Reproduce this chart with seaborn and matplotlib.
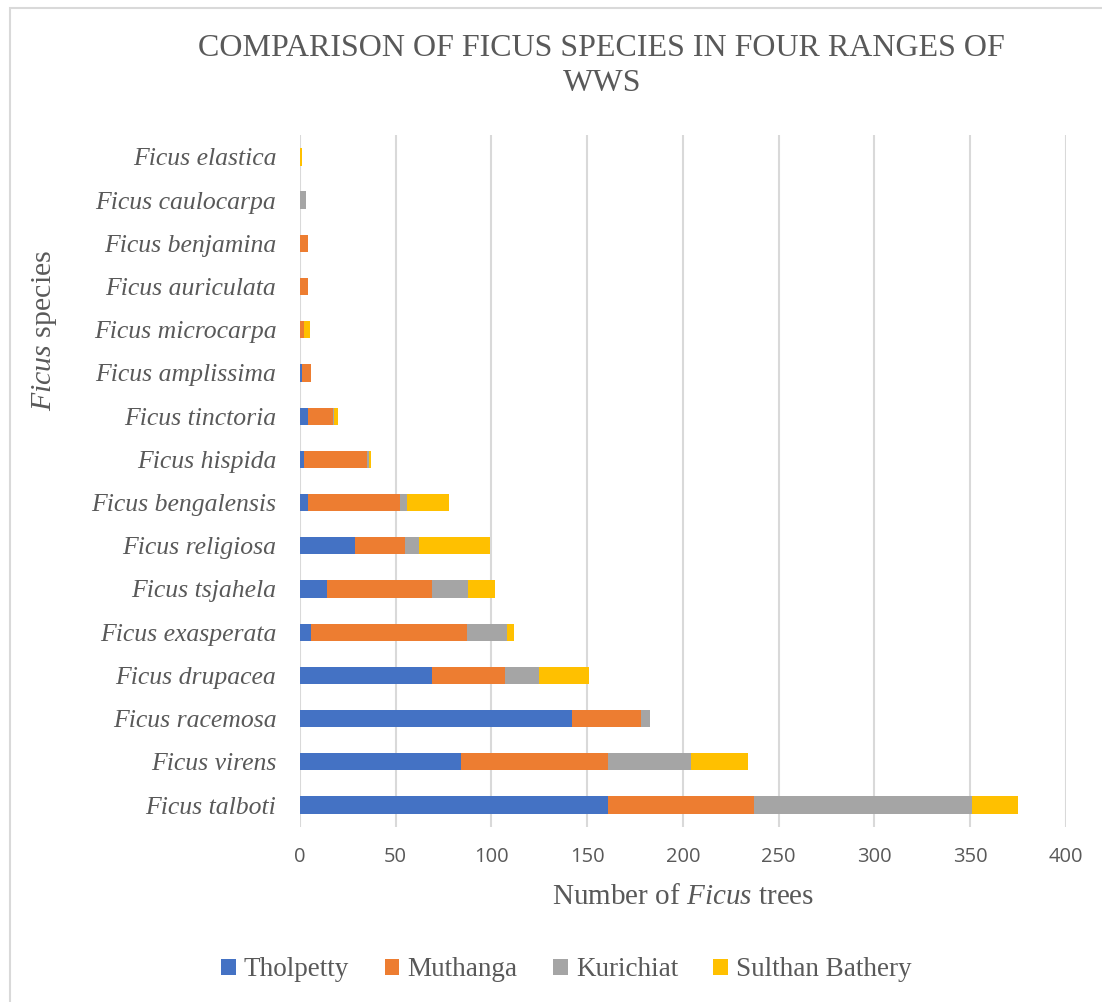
import matplotlib
matplotlib.use("Agg")
import matplotlib.pyplot as plt
from matplotlib.patches import Patch, Rectangle
import numpy as np
import pandas as pd
import seaborn as sns

# Species listed top to bottom as they appear on the chart
species = [
    "Ficus elastica", "Ficus caulocarpa", "Ficus benjamina", "Ficus auriculata",
    "Ficus microcarpa", "Ficus amplissima", "Ficus tinctoria", "Ficus hispida",
    "Ficus bengalensis", "Ficus religiosa", "Ficus tsjahela", "Ficus exasperata",
    "Ficus drupacea", "Ficus racemosa", "Ficus virens", "Ficus talboti",
]

# Tree counts per forest range
tholpetty = [0, 0, 0, 0, 0, 1, 4, 2, 4, 29, 14, 6, 69, 142, 84, 161]
muthanga = [0, 0, 4, 4, 2, 5, 13, 33, 48, 26, 55, 81, 38, 36, 77, 76]
kurichiat = [0, 3, 0, 0, 0, 0, 1, 1, 4, 7, 19, 21, 18, 5, 43, 114]
sulthan_bathery = [1, 0, 0, 0, 3, 0, 2, 1, 22, 37, 14, 4, 26, 0, 30, 24]

ranges = ["Tholpetty", "Muthanga", "Kurichiat", "Sulthan Bathery"]
colors = ["#4472C4", "#ED7D31", "#A5A5A5", "#FFC000"]
x_ticks = [0, 50, 100, 150, 200, 250, 300, 350, 400]

df = pd.DataFrame({
    "species": species,
    "Tholpetty": tholpetty,
    "Muthanga": muthanga,
    "Kurichiat": kurichiat,
    "Sulthan Bathery": sulthan_bathery,
})
cum = df[ranges].cumsum(axis=1)

sns.set_theme(style="white")
plt.rcParams["mathtext.fontset"] = "custom"
plt.rcParams["mathtext.rm"] = "Liberation Serif"
plt.rcParams["mathtext.it"] = "Liberation Serif:italic"

text_color = "#595959"
serif = "Liberation Serif"

fig = plt.figure(figsize=(11.02, 10.02), dpi=100)
ax = fig.add_axes([0.2722, 0.175, 0.6951, 0.690])

# Stack by overdrawing cumulative totals, largest first
for name, color in reversed(list(zip(ranges, colors))):
    sns.barplot(x=cum[name], y=df["species"], order=species, orient="h",
                color=color, width=0.4, linewidth=0, saturation=1, ax=ax)

ax.set_xlim(0, 400)
ax.set_xticks(x_ticks)
ax.set_xticklabels([str(t) for t in x_ticks], fontsize=14.5, color=text_color,
                   family="Open Sans")
ax.set_yticks(range(len(species)))
ax.set_yticklabels(species, fontsize=18.5, color=text_color, family=serif,
                   style="italic")
ax.tick_params(axis="x", length=0, pad=15)
ax.tick_params(axis="y", length=0, pad=17)
ax.grid(axis="x", color="#D9D9D9", linewidth=1.5)
ax.set_axisbelow(True)
for s in ax.spines.values():
    s.set_visible(False)

ax.set_xlabel(r"Number of $\mathit{Ficus}$ trees", fontsize=21, color=text_color,
              family=serif, labelpad=12)
ax.set_ylabel("")
fig.text(0.040, 0.670, r"$\mathit{Ficus}$ species", rotation=90, fontsize=21.5,
         color=text_color, family=serif, ha="center", va="center")

fig.text(0.546, 0.952, "COMPARISON OF FICUS SPECIES IN FOUR RANGES OF",
         ha="center", va="center", fontsize=23, color=text_color, family=serif)
fig.text(0.546, 0.917, "WWS",
         ha="center", va="center", fontsize=23, color=text_color, family=serif)

handles = [Patch(facecolor=c, edgecolor="none", label=r) for r, c in zip(ranges, colors)]
fig.legend(handles=handles, loc="center", bbox_to_anchor=(0.514, 0.032), ncol=4,
           frameon=False, prop={"family": serif, "size": 19.5},
           labelcolor=text_color, handlelength=0.55, handleheight=0.55,
           handletextpad=0.3, columnspacing=1.3)

# Chart area border
fig.patches.append(Rectangle((0.009, -0.1), 1.2, 1.092, transform=fig.transFigure,
                             fill=False, edgecolor="#D9D9D9", linewidth=1.5))

fig.savefig("out.png", dpi=100)
